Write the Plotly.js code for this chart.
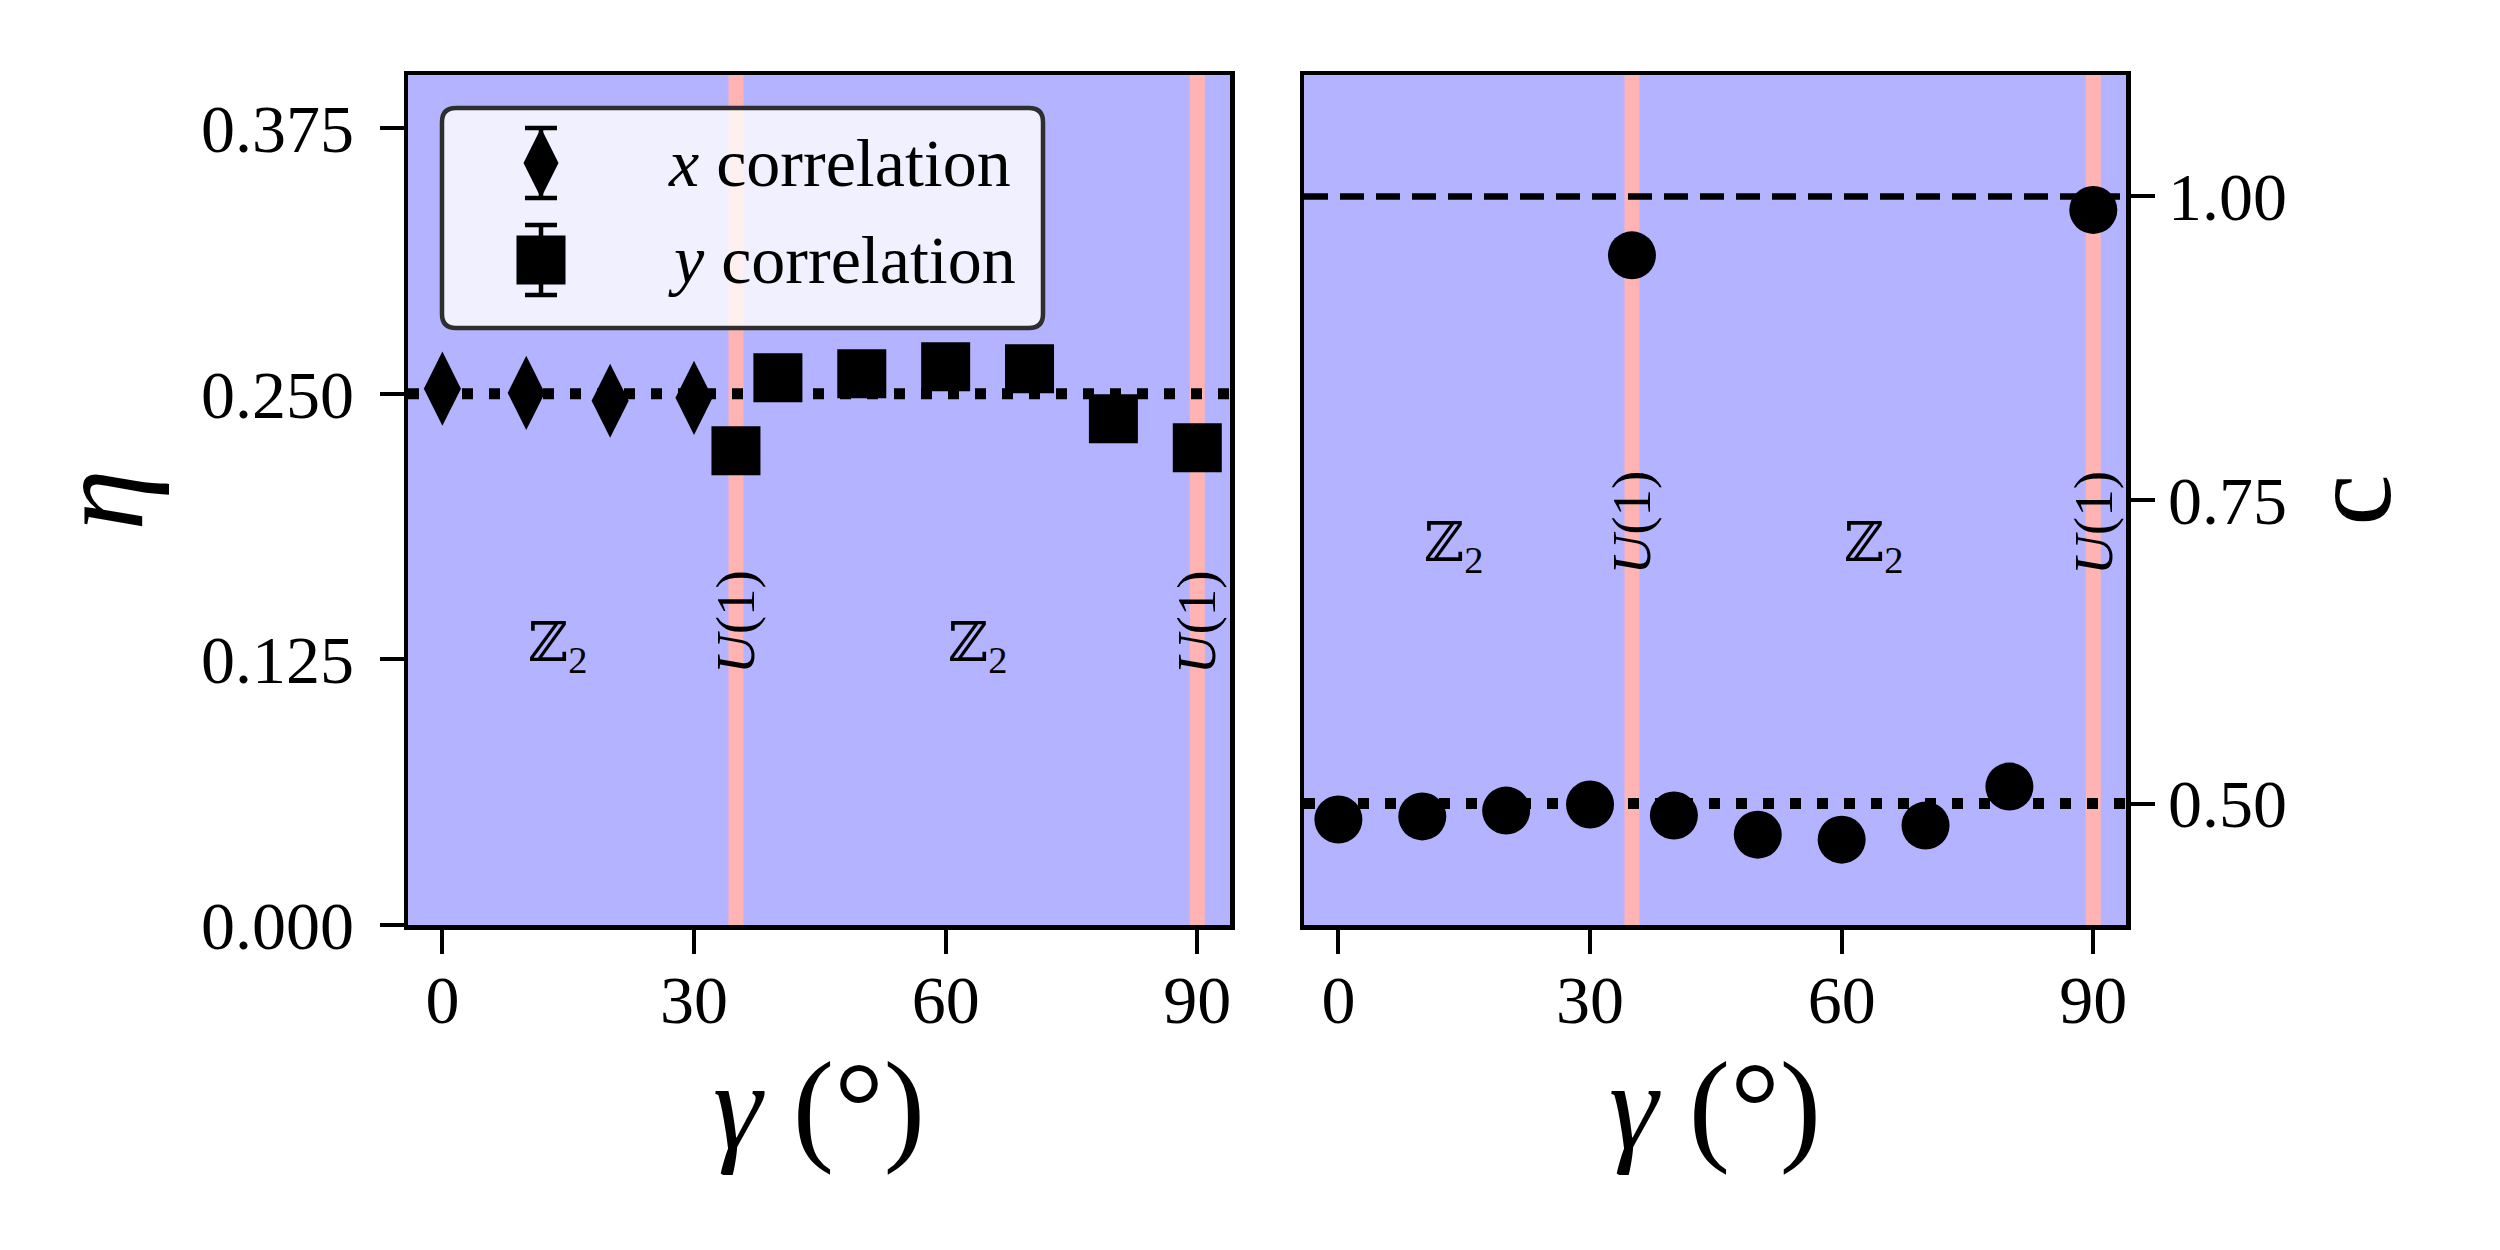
<!DOCTYPE html>
<html>
<head>
<meta charset="utf-8">
<script src="https://cdn.plot.ly/plotly-3.0.1.min.js"></script>
<style>
  html, body { margin: 0; padding: 0; background: #ffffff; }
  #chart { width: 2500px; height: 1250px; }
</style>
</head>
<body>
<div id="chart"></div>
<script>
// ---- data ----
const gamma_x_corr = [0, 10, 20, 30];
const eta_x_corr = [0.2524, 0.2504, 0.2467, 0.2481];

const gamma_y_corr = [35, 40, 50, 60, 70, 80, 90];
const eta_y_corr = [0.2232, 0.2575, 0.2594, 0.2627, 0.2618, 0.2382, 0.2246];

const gamma_c = [0, 10, 20, 30, 35, 40, 50, 60, 70, 80, 90];
const c_values = [0.4869, 0.4894, 0.4942, 0.4992, 0.9515, 0.4902, 0.4744, 0.4703, 0.4819, 0.5140, 0.9889];

const transitions = [35, 90];          // U(1) points (pink lines)
const eta_ref = 0.25;                  // dotted line, left panel
const c_ref_dotted = 0.5;              // dotted line, right panel
const c_ref_dashed = 1.0;              // dashed line, right panel

const phase_x = [10, 60];              // Z2 labels
const phase_text = ["ℤ<sub>2</sub>", "ℤ<sub>2</sub>"];
const eta_phase_y = 0.131;
const c_phase_y = 0.712;
const u1_text = "<i>U</i>(1)";
const eta_u1_y = 0.1426;
const c_u1_y = 0.7314;

const eta_ticks = [0, 0.125, 0.25, 0.375];
const c_ticks = [0.5, 0.75, 1.0];
const gamma_ticks = [0, 30, 60, 90];

const legend_labels = ["<i>x</i> correlation", "<i>y</i> correlation"];

// ---- styling ----
const FONT = "'Liberation Serif', 'Times New Roman', 'DejaVu Serif', serif";
const BG_BLUE = "#b3b3ff";
const PINK = "#ffb3b3";
const W = 2500, H = 1250;
const M = { l: 408, r: 374, t: 75, b: 325 };
const plot_w = W - M.l - M.r, plot_h = H - M.t - M.b;

// legend box in page pixels (from top-left)
const box = { x0: 442, x1: 1043, y0: 108, y1: 328, r: 14 };
const pad = 10;
const key_x = 541, text_x = 666;
const key_y = [163, 260];

function px_domain_x(a, b) { return [(a - M.l) / plot_w, (b - M.l) / plot_w]; }
function px_domain_y(top, bottom) { return [(H - M.b - bottom) / plot_h, (H - M.b - top) / plot_h]; }

function rounded_rect(b) {
    const r = b.r;
    return `M${b.x0 + r},${b.y0} L${b.x1 - r},${b.y0} Q${b.x1},${b.y0} ${b.x1},${b.y0 + r} ` +
           `L${b.x1},${b.y1 - r} Q${b.x1},${b.y1} ${b.x1 - r},${b.y1} ` +
           `L${b.x0 + r},${b.y1} Q${b.x0},${b.y1} ${b.x0},${b.y1 - r} ` +
           `L${b.x0},${b.y0 + r} Q${b.x0},${b.y0} ${b.x0 + r},${b.y0} Z`;
}

const err_bar = { type: "constant", value: 35, width: 16, thickness: 4.5, color: "black" };

const traces = [
    {
        x: gamma_x_corr, y: eta_x_corr, xaxis: "x", yaxis: "y",
        type: "scatter", mode: "markers", name: "x correlation",
        marker: { symbol: "diamond-tall", size: 53, color: "black" }
    },
    {
        x: gamma_y_corr, y: eta_y_corr, xaxis: "x", yaxis: "y",
        type: "scatter", mode: "markers", name: "y correlation",
        marker: { symbol: "square", size: 49, color: "black" }
    },
    {
        x: gamma_c, y: c_values, xaxis: "x2", yaxis: "y2",
        type: "scatter", mode: "markers", name: "c",
        marker: { symbol: "circle", size: 48, color: "black" }
    },
    // legend keys, drawn in a hidden pixel-space axis pair
    {
        x: [key_x], y: [key_y[0]], xaxis: "x3", yaxis: "y3",
        type: "scatter", mode: "markers", error_y: err_bar,
        marker: { symbol: "diamond-tall", size: 50, color: "black" }
    },
    {
        x: [key_x], y: [key_y[1]], xaxis: "x3", yaxis: "y3",
        type: "scatter", mode: "markers", error_y: err_bar,
        marker: { symbol: "square", size: 49, color: "black" }
    }
];

const shapes = [];
for (const ax of ["", "2"]) {
    shapes.push({
        type: "rect", xref: `x${ax} domain`, yref: `y${ax} domain`,
        x0: 0, x1: 1, y0: 0, y1: 1, fillcolor: BG_BLUE, line: { width: 0 }, layer: "below"
    });
    for (const t of transitions)
        shapes.push({
            type: "line", xref: `x${ax}`, yref: `y${ax} domain`,
            x0: t, x1: t, y0: 0, y1: 1, line: { color: PINK, width: 15 }, layer: "below"
        });
}
const hline = (ax, y, dash, width) => ({
    type: "line", xref: `x${ax} domain`, yref: `y${ax}`,
    x0: 0, x1: 1, y0: y, y1: y, line: { color: "black", width: width, dash: dash }, layer: "below"
});
shapes.push(hline("", eta_ref, "11px,16px", 11));
shapes.push(hline("2", c_ref_dotted, "11px,16px", 11));
shapes.push(hline("2", c_ref_dashed, "24px,12px", 6.5));
shapes.push({
    type: "path", xref: "x3", yref: "y3", path: rounded_rect(box),
    fillcolor: "rgba(255,255,255,0.8)", line: { color: "#2e2e2e", width: 4.5 }, layer: "below"
});

const annotations = [];
const ann = (xr, yr, x, y, text, size, extra) => Object.assign({
    xref: xr, yref: yr, x: x, y: y, text: text, showarrow: false,
    font: { family: FONT, size: size, color: "black" }
}, extra || {});

phase_x.forEach((x, i) => {
    annotations.push(ann("x", "y", x, eta_phase_y, phase_text[i], 55, { xanchor: "left", yanchor: "middle" }));
    annotations.push(ann("x2", "y2", x, c_phase_y, phase_text[i], 55, { xanchor: "left", yanchor: "middle" }));
});
transitions.forEach(t => {
    annotations.push(ann("x", "y", t, eta_u1_y, u1_text, 55, { textangle: -90, xanchor: "center", yanchor: "middle" }));
    annotations.push(ann("x2", "y2", t, c_u1_y, u1_text, 55, { textangle: -90, xanchor: "center", yanchor: "middle" }));
});
legend_labels.forEach((lab, i) => {
    annotations.push(ann("x3", "y3", text_x, key_y[i], lab, 68, { xanchor: "left", yanchor: "middle" }));
});

const tick_font = { family: FONT, size: 68, color: "black" };
const base_axis = {
    showline: true, linecolor: "black", linewidth: 4.5, mirror: true,
    ticks: "outside", ticklen: 24, tickwidth: 4, tickcolor: "black",
    showgrid: false, zeroline: false, tickfont: tick_font, fixedrange: true
};
const x_axis = (domain, anchor) => Object.assign({}, base_axis, {
    domain: domain, anchor: anchor, range: [-4.1, 93.9],
    tickmode: "array", tickvals: gamma_ticks, ticklabelstandoff: -12,
    title: { text: "<i>γ</i> (°)", font: { family: FONT, size: 124, color: "black" }, standoff: 0 }
});

const left_w = 822 / plot_w;
const layout = {
    width: W, height: H, margin: M,
    paper_bgcolor: "#ffffff", plot_bgcolor: "rgba(0,0,0,0)",
    showlegend: false,
    font: { family: FONT, color: "black" },
    xaxis: x_axis([0, left_w], "y"),
    yaxis: Object.assign({}, base_axis, {
        domain: [0, 1], anchor: "x", range: [0, 0.4],
        tickmode: "array", tickvals: eta_ticks, tickformat: ".3f", ticklabelstandoff: 12,
        title: { text: "<i>η</i>", font: { family: FONT, size: 124, color: "black" }, standoff: 18 }
    }),
    xaxis2: x_axis([1 - left_w, 1], "y2"),
    yaxis2: Object.assign({}, base_axis, {
        domain: [0, 1], anchor: "x2", side: "right", range: [0.4, 1.1],
        tickmode: "array", tickvals: c_ticks, tickformat: ".2f",
        title: { text: "c", font: { family: FONT, size: 116, color: "black" }, standoff: 4 }
    }),
    xaxis3: {
        visible: false, anchor: "y3", fixedrange: true,
        domain: px_domain_x(box.x0 - pad, box.x1 + pad), range: [box.x0 - pad, box.x1 + pad]
    },
    yaxis3: {
        visible: false, anchor: "x3", fixedrange: true,
        domain: px_domain_y(box.y0 - pad, box.y1 + pad), range: [box.y1 + pad, box.y0 - pad]
    },
    shapes: shapes,
    annotations: annotations
};

Plotly.newPlot("chart", traces, layout, { displayModeBar: false, staticPlot: true });
</script>
</body>
</html>
